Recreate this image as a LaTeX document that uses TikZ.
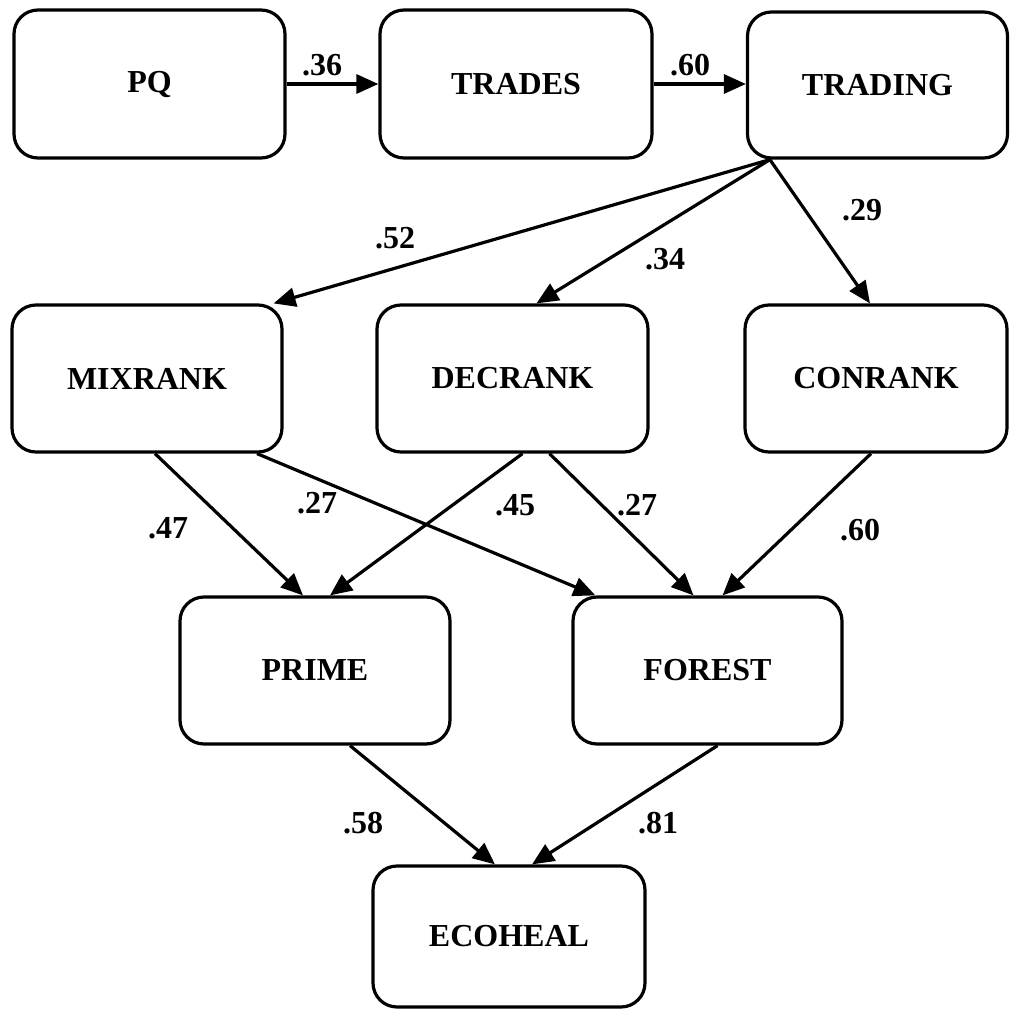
\documentclass[tikz,border=0pt]{standalone}
\usepackage{fontspec}
\setmainfont{Liberation Serif}
\usetikzlibrary{arrows.meta,calc}
\begin{document}
\begin{tikzpicture}[x=1pt,y=-1pt,
  box/.style={draw=black,line width=3.2pt,rounded corners=24pt,fill=white,
    inner sep=0pt,font=\bfseries\fontsize{32}{36}\selectfont},
  coef/.style={font=\bfseries\fontsize{32}{36}\selectfont,inner sep=0pt},
  link/.style={line width=3.2pt,-{Triangle[length=22pt,width=19pt]}}]
\useasboundingbox (0,0) rectangle (1010,1009);
\fill[white] (0,0) rectangle (1010,1009);
% boxes
\node[box,minimum width=271pt,minimum height=148pt] (pq) at (149.5,84) {PQ};
\node[box,minimum width=272pt,minimum height=148pt] (trades) at (516,84) {TRADES};
\node[box,minimum width=260pt,minimum height=146pt] (trading) at (877.5,85) {TRADING};
\node[box,minimum width=270pt,minimum height=147pt] (mixrank) at (147,378.5) {MIXRANK};
\node[box,minimum width=271pt,minimum height=147pt] (decrank) at (512.5,378.5) {DECRANK};
\node[box,minimum width=262pt,minimum height=147pt] (conrank) at (876,378.5) {CONRANK};
\node[box,minimum width=270pt,minimum height=147pt] (prime) at (315,670.5) {PRIME};
\node[box,minimum width=269pt,minimum height=147pt] (forest) at (707.5,670.5) {FOREST};
\node[box,minimum width=272pt,minimum height=141pt] (ecoheal) at (509,936.5) {ECOHEAL};
% connectors
\draw[link] (pq.east) -- (trades.west);
\draw[link] (trades.east) -- (trades.east -| trading.west);
\coordinate (tj) at ([xshift=24pt]trading.south west);
\draw[link] (tj) -- ([xshift=-10pt]mixrank.north east);
\draw[link] (tj) -- ([xshift=24pt]decrank.north);
\draw[link] (tj) -- ([xshift=-6pt]conrank.north);
\draw[link] ([xshift=8pt]mixrank.south) -- ([xshift=-12pt]prime.north);
\draw[link] ([xshift=110pt]mixrank.south) -- ([xshift=24pt]forest.north west);
\draw[link] ([xshift=10pt]decrank.south) -- ([xshift=15pt]prime.north);
\draw[link] ([xshift=37pt]decrank.south) -- ([xshift=-14pt]forest.north);
\draw[link] ([xshift=-5pt]conrank.south) -- ([xshift=15pt]forest.north);
\draw[link] ([xshift=35pt]prime.south) -- ([xshift=-14pt]ecoheal.north);
\draw[link] ([xshift=10pt]forest.south) -- ([xshift=23pt]ecoheal.north);
% coefficients
\node[coef] (c1) at (322,65) {.36};
\node[coef] (c2) at (690,65) {.60};
\node[coef] (c3) at (395,238) {.52};
\node[coef] (c4) at (665,259) {.34};
\node[coef] (c5) at (862,210) {.29};
\node[coef] (c6) at (168,528) {.47};
\node[coef] (c7) at (317,503) {.27};
\node[coef] (c8) at (515,505) {.45};
\node[coef] (c9) at (637,505) {.27};
\node[coef] (c10) at (860,530) {.60};
\node[coef] (c11) at (363,823) {.58};
\node[coef] (c12) at (658,823) {.81};
\end{tikzpicture}
\end{document}
